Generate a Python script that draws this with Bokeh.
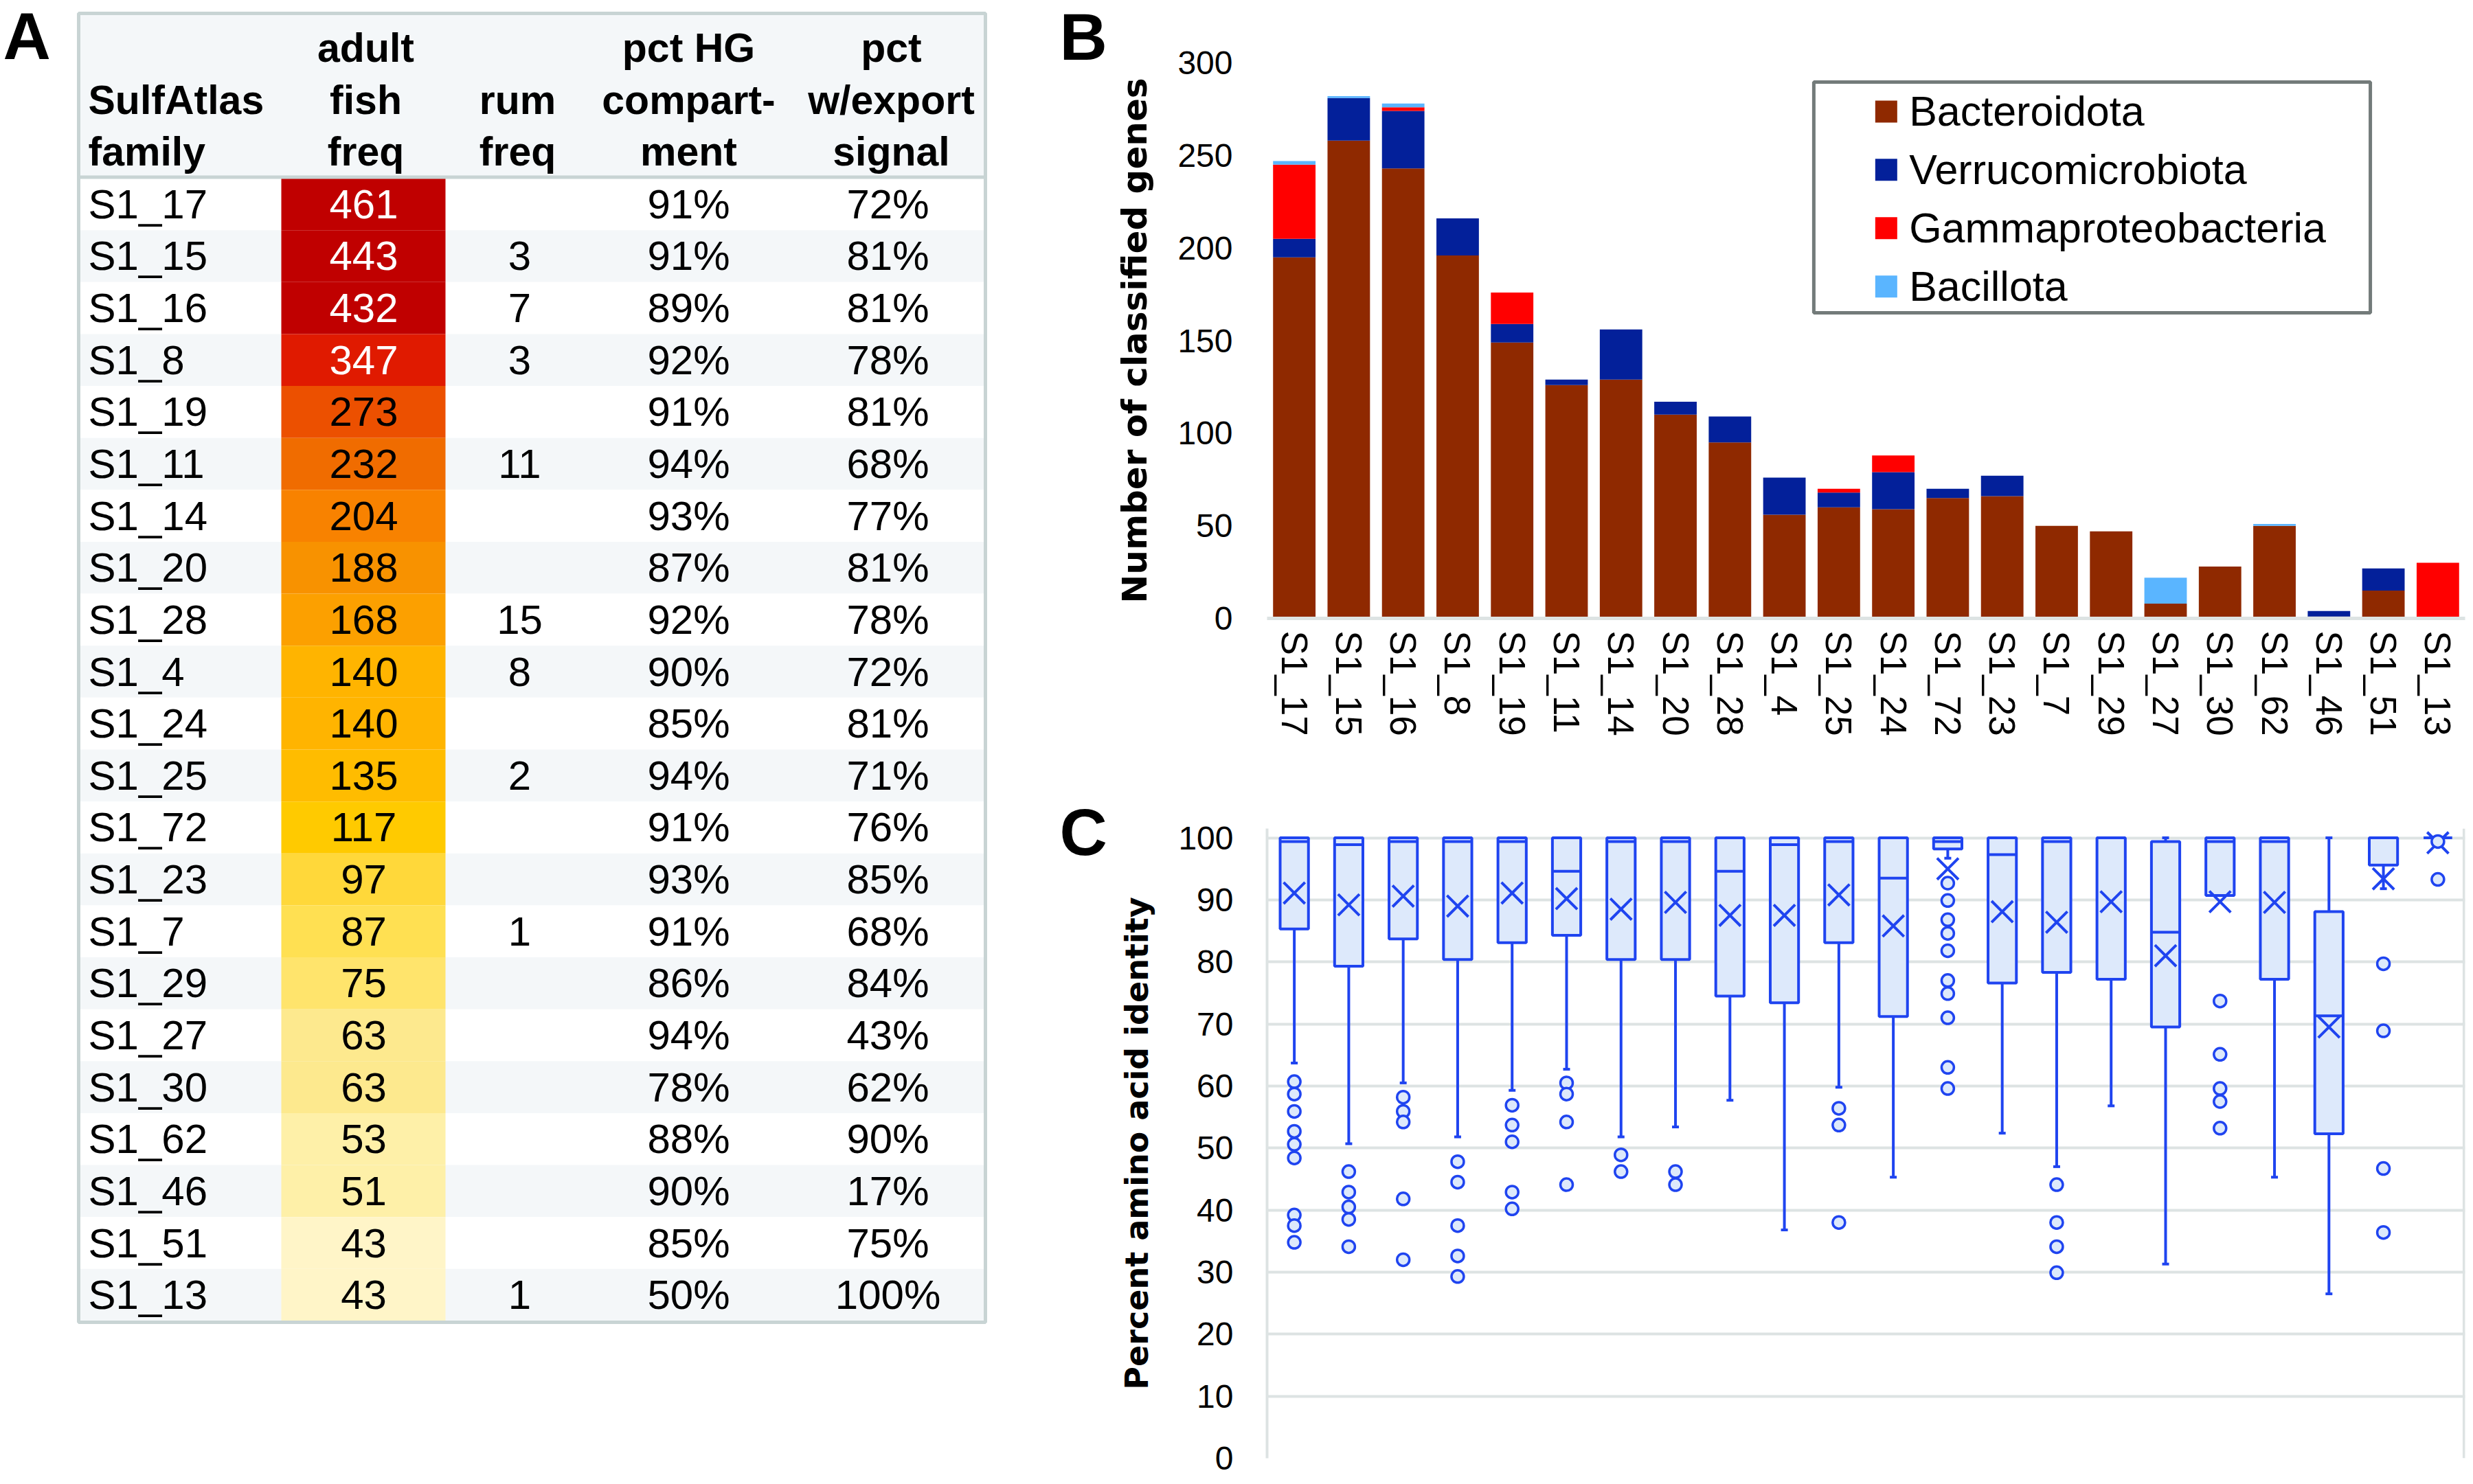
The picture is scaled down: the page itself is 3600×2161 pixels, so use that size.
from bokeh.plotting import figure
from bokeh.models import (Range1d, ColumnDataSource, SingleIntervalTicker, Label)
from bokeh.layouts import row, column
from bokeh.core.properties import value
from bokeh.embed import file_html
from bokeh.resources import INLINE

# ---------------- data: panel A (table) ----------------
table_family = ["S1_17", "S1_15", "S1_16", "S1_8", "S1_19", "S1_11", "S1_14", "S1_20", "S1_28", "S1_4", "S1_24",
                "S1_25", "S1_72", "S1_23", "S1_7", "S1_29", "S1_27", "S1_30", "S1_62", "S1_46", "S1_51", "S1_13"]
table_fish = [461, 443, 432, 347, 273, 232, 204, 188, 168, 140, 140, 135, 117, 97, 87, 75, 63, 63, 53, 51, 43, 43]
table_rum = ["", "3", "7", "3", "", "11", "", "", "15", "8", "", "2", "", "", "1", "", "", "", "", "", "", "1"]
table_hg = [91, 91, 89, 92, 91, 94, 93, 87, 92, 90, 85, 94, 91, 93, 91, 86, 94, 78, 88, 90, 85, 50]
table_export = [72, 81, 81, 78, 81, 68, 77, 81, 78, 72, 81, 71, 76, 85, 68, 84, 43, 62, 90, 17, 75, 100]
fish_colors = ["#c00000", "#c00000", "#c00000", "#e01a00", "#ec5000", "#f06c00", "#f88200", "#f89200",
               "#fca000", "#ffb400", "#ffb400", "#ffbc00", "#ffca00", "#ffd83a", "#ffe052", "#ffe46c",
               "#fde98e", "#fde98e", "#fef0a8", "#fef0a8", "#fff5c8", "#fff5c8"]
header_lines = [["", "SulfAtlas", "family"], ["adult", "fish", "freq"], ["", "rum", "freq"],
                ["pct HG", "compart-", "ment"], ["pct", "w/export", "signal"]]
panel_letters = ["A", "B", "C"]

# ---------------- data: panel B (stacked bars) ----------------
chart_families = ["S1_17", "S1_15", "S1_16", "S1_8", "S1_19", "S1_11", "S1_14", "S1_20", "S1_28", "S1_4", "S1_25",
                  "S1_24", "S1_72", "S1_23", "S1_7", "S1_29", "S1_27", "S1_30", "S1_62", "S1_46", "S1_51", "S1_13"]
bacteroidota = [195, 258, 243, 196, 149, 126, 129, 110, 95, 56, 60, 59, 65, 66, 50, 47, 8, 28, 50, 1, 15, 0]
verrucomicrobiota = [10, 23, 31, 20, 10, 3, 27, 7, 14, 20, 8, 20, 5, 11, 0, 0, 0, 0, 0, 3, 12, 0]
gammaproteobacteria = [40, 0, 2, 0, 17, 0, 0, 0, 0, 0, 2, 9, 0, 0, 0, 0, 0, 0, 0, 0, 0, 30]
bacillota = [2, 1, 2, 0, 0, 0, 0, 0, 0, 0, 0, 0, 0, 0, 0, 0, 14, 0, 1, 0, 0, 0]
taxa = ["Bacteroidota", "Verrucomicrobiota", "Gammaproteobacteria", "Bacillota"]
taxa_colors = ["#8f2900", "#03209a", "#ff0000", "#5ab5ff"]
b_tick_step = 50

# ---------------- data: panel C (box plots) ----------------
box_q3 = [100, 100, 100, 100, 100, 100, 100, 100, 100, 100, 100, 100, 100, 100, 100, 100, 99.4, 100, 100, 88.1, 100, 100]
box_median = [99.4, 98.9, 99.4, 99.4, 99.4, 94.6, 99.4, 99.4, 94.6, 98.9, 99.4, 93.5, 99.4, 97.3, 99.4, 100, 84.8,
              99.4, 99.4, 71.3, 100, 100]
box_q1 = [85.3, 79.3, 83.7, 80.4, 83.1, 84.3, 80.4, 80.4, 74.5, 73.4, 83.1, 71.2, 98.2, 76.6, 78.3, 77.2, 69.5,
          90.7, 77.2, 52.3, 95.6, 100]
box_upper = [100] * 22
box_lower = [63.7, 50.7, 60.5, 51.8, 59.3, 62.7, 51.8, 53.4, 57.7, 36.8, 59.8, 45.3, 96.7, 52.4, 47.0, 56.8, 31.3,
             90.7, 45.3, 26.5, 91.8, 100]
box_mean = [91.1, 89.2, 90.6, 89.0, 91.1, 90.2, 88.5, 89.6, 87.5, 87.5, 90.8, 85.8, 95.0, 88.1, 86.4, 89.7, 81.0,
            89.7, 89.6, 69.5, 93.4, 99.2]
box_outliers = [
    [60.7, 58.7, 55.9, 52.7, 50.6, 48.4, 39.2, 37.5, 34.8],
    [46.2, 42.9, 40.5, 38.5, 34.1],
    [58.2, 55.9, 54.2, 41.8, 32.0],
    [47.8, 44.5, 37.5, 32.6, 29.3],
    [56.9, 53.7, 51.0, 42.9, 40.2],
    [60.5, 58.7, 54.2, 44.1],
    [48.9, 46.2],
    [46.2, 44.1],
    [],
    [],
    [56.4, 53.7, 38.0],
    [],
    [92.7, 89.9, 86.8, 84.6, 81.8, 77.0, 74.9, 71.0, 63.0, 59.6],
    [],
    [44.1, 38.0, 34.1, 29.9],
    [],
    [],
    [73.7, 65.1, 59.6, 57.5, 53.2],
    [],
    [],
    [79.7, 68.9, 46.7, 36.4],
    [99.4, 93.3],
]
c_tick_step = 10

# ---------------- styling constants ----------------
FONT = "Liberation Sans"
BOLD_FONT = "DejaVu Sans"
GRID = "#dde3e3"
TBORDER = "#c8d4d4"
SHADE = "#f4f7f9"
BLUE = "#1f44f0"
LIGHT = "#dde9fb"

# ================= Panel A: table figure (data units = page pixels) =================
TW, TH = 1620, 2153
pt = figure(width=TW, height=TH, x_range=Range1d(0, TW), y_range=Range1d(TH, 0),
            output_backend="svg", toolbar_location=None, x_axis_type=None, y_axis_type=None,
            min_border=0, outline_line_color=None)

T_L, T_R = 116, 1432
T_TOP, HEAD_BOT, T_BOT = 21, 259, 1923
ROW_H = (T_BOT - HEAD_BOT) / len(table_family)
FISH_L, FISH_R = 409, 648
X_FAM, X_FISH, X_RUM, X_HG, X_EXP = 128, 529, 756, 1002, 1292

n = len(table_family)
rows = ColumnDataSource(dict(
    left=[T_L] * n, right=[T_R] * n, fl=[FISH_L] * n, fr=[FISH_R] * n,
    top=[HEAD_BOT + i * ROW_H for i in range(n)],
    bot=[HEAD_BOT + (i + 1) * ROW_H for i in range(n)],
    mid=[HEAD_BOT + (i + 0.5) * ROW_H for i in range(n)],
    shade=[SHADE if i % 2 else "#ffffff" for i in range(n)],
    fam=table_family,
    fish=[str(v) for v in table_fish],
    fish_color=fish_colors,
    fish_text=["#ffffff" if v >= 300 else "#000000" for v in table_fish],
    rum=table_rum,
    hg=[f"{v}%" for v in table_hg],
    exp=[f"{v}%" for v in table_export],
    xf=[X_FAM] * n, xfi=[X_FISH] * n, xr=[X_RUM] * n, xh=[X_HG] * n, xe=[X_EXP] * n,
))
pt.quad(left=[T_L], right=[T_R], top=[T_TOP], bottom=[HEAD_BOT], fill_color=SHADE, line_color=None)
pt.quad(left="left", right="right", top="top", bottom="bot", fill_color="shade", line_color=None, source=rows)
pt.quad(left="fl", right="fr", top="top", bottom="bot", fill_color="fish_color", line_color=None, source=rows)
pt.segment(x0=[T_L], x1=[T_R], y0=[HEAD_BOT - 1.5], y1=[HEAD_BOT - 1.5], line_color=TBORDER, line_width=5)
pt.quad(left=[T_L - 2], right=[T_R + 2], top=[T_TOP - 2], bottom=[T_BOT + 2], fill_color=None,
        line_color=TBORDER, line_width=5)

body_kw = dict(text_font=value(FONT), text_font_size="60px", text_baseline="middle", source=rows)
pt.text(x="xf", y="mid", text="fam", text_align="left", text_color="#000000", **body_kw)
pt.text(x="xfi", y="mid", text="fish", text_align="center", text_color="fish_text", **body_kw)
pt.text(x="xr", y="mid", text="rum", text_align="center", text_color="#000000", **body_kw)
pt.text(x="xh", y="mid", text="hg", text_align="center", text_color="#000000", **body_kw)
pt.text(x="xe", y="mid", text="exp", text_align="center", text_color="#000000", **body_kw)

head_x = [X_FAM, 532, 753, X_HG, 1297]
head_align = ["left", "center", "center", "center", "center"]
head_mid = [69, 145, 220]
hx, hy, ht, ha = [], [], [], []
for j, lines in enumerate(header_lines):
    for k, s in enumerate(lines):
        if s:
            hx.append(head_x[j]); hy.append(head_mid[k]); ht.append(s); ha.append(head_align[j])
pt.text(x="x", y="y", text="t", text_align="a",
        source=ColumnDataSource(dict(x=hx, y=hy, t=ht, a=ha)),
        text_font=value(FONT), text_font_style="bold", text_font_size="59px",
        text_baseline="middle", text_color="#000000")

# panel letters (font size kept below 100px)
for s, x, y in zip(panel_letters, [4, 1542, 1542], [52, 53, 1211]):
    pt.add_layout(Label(x=x, y=y, text=s, text_font=FONT, text_font_style="bold", text_font_size="96px",
                        text_baseline="alphabetic", text_align="left", text_color="#000000"))

# ================= Panel B: stacked bar chart =================
PW = 1972
NCAT = len(chart_families)
xi = list(range(NCAT))
fam_labels = {i: f for i, f in enumerate(chart_families)}

pb = figure(width=PW, height=1140, x_range=Range1d(-0.5, NCAT - 0.5), y_range=Range1d(0, 300),
            output_backend="svg", toolbar_location=None, min_border_left=218, min_border_right=4,
            min_border_top=91, min_border_bottom=240, outline_line_color=None)
src_b = ColumnDataSource(dict(xi=xi, Bacteroidota=bacteroidota, Verrucomicrobiota=verrucomicrobiota,
                              Gammaproteobacteria=gammaproteobacteria, Bacillota=bacillota))
pb.vbar_stack(taxa, x="xi", width=0.78, fill_color=taxa_colors, line_color=None, source=src_b)
pb.xgrid.visible = False
pb.ygrid.visible = False

LEG_L, LEG_R, LEG_T, LEG_B = 9.54, 19.76, 289.6, 165.0
pb.quad(left=[LEG_L], right=[LEG_R], top=[LEG_T], bottom=[LEG_B], fill_color="#ffffff",
        line_color="#737b7a", line_width=5)
leg_y = [LEG_T - 15.9 - 31.5 * i for i in range(len(taxa))]
leg_src = ColumnDataSource(dict(x=[LEG_L + 1.33] * len(taxa), tx=[LEG_L + 1.75] * len(taxa),
                                y=leg_y, c=taxa_colors, t=taxa))
pb.scatter(x="x", y="y", marker="square", size=32, fill_color="c", line_color=None, source=leg_src)
pb.text(x="tx", y="y", text="t", source=leg_src, text_font=value(FONT), text_font_size="61px",
        text_baseline="middle", text_align="left", text_color="#000000")

pb.yaxis.ticker = SingleIntervalTicker(interval=b_tick_step, num_minor_ticks=0)
pb.yaxis.axis_line_color = None
pb.yaxis.major_tick_line_color = None
pb.yaxis.minor_tick_line_color = None
pb.yaxis.major_label_standoff = 44
pb.yaxis.major_label_text_font = FONT
pb.yaxis.major_label_text_font_size = "48px"
pb.yaxis.major_label_text_color = "#000000"
pb.yaxis.axis_label = "Number of classified genes"
pb.yaxis.axis_label_text_font = BOLD_FONT
pb.yaxis.axis_label_text_font_style = "bold"
pb.yaxis.axis_label_text_font_size = "50px"
pb.yaxis.axis_label_text_color = "#000000"
pb.yaxis.axis_label_standoff = 30

pb.xaxis.ticker = SingleIntervalTicker(interval=1, num_minor_ticks=0)
pb.xaxis.major_label_overrides = fam_labels
pb.xaxis.axis_line_color = GRID
pb.xaxis.axis_line_width = 5
pb.xaxis.major_tick_line_color = None
pb.xaxis.minor_tick_line_color = None
pb.xaxis.major_label_orientation = "vertical"
pb.xaxis.major_label_text_font = FONT
pb.xaxis.major_label_text_font_size = "53px"
pb.xaxis.major_label_text_color = "#000000"
pb.xaxis.major_label_standoff = 12

# ================= Panel C: box plots =================
pc = figure(width=PW, height=1013, x_range=Range1d(-0.5, NCAT - 0.5), y_range=Range1d(0, 101.5),
            output_backend="svg", toolbar_location=None, min_border_left=218, min_border_right=4,
            min_border_top=66, min_border_bottom=30, outline_line_color=None)
BW = 0.52
src_c = ColumnDataSource(dict(xi=xi, q1=box_q1, q3=box_q3, med=box_median,
                              up=box_upper, lo=box_lower, mean=box_mean,
                              mx0=[i - BW / 2 for i in xi], mx1=[i + BW / 2 for i in xi]))
out_x, out_val = [], []
for i, vals in enumerate(box_outliers):
    for v in vals:
        out_x.append(i); out_val.append(v)
src_out = ColumnDataSource(dict(xi=out_x, val=out_val))

pc.xaxis.visible = False
pc.xgrid.visible = False
pc.yaxis.ticker = SingleIntervalTicker(interval=c_tick_step, num_minor_ticks=0)
pc.ygrid.grid_line_color = GRID
pc.ygrid.grid_line_width = 4
pc.yaxis.axis_line_color = GRID
pc.yaxis.axis_line_width = 4
pc.yaxis.major_tick_line_color = None
pc.yaxis.minor_tick_line_color = None
pc.yaxis.major_label_standoff = 43
pc.yaxis.major_label_text_font = FONT
pc.yaxis.major_label_text_font_size = "48px"
pc.yaxis.major_label_text_color = "#000000"
pc.yaxis.axis_label = "Percent amino acid identity"
pc.yaxis.axis_label_text_font = BOLD_FONT
pc.yaxis.axis_label_text_font_style = "bold"
pc.yaxis.axis_label_text_font_size = "46px"
pc.yaxis.axis_label_text_color = "#000000"
pc.yaxis.axis_label_standoff = 30
pc.segment(x0=[NCAT - 0.52], y0=[0], x1=[NCAT - 0.52], y1=[101.5], line_color=GRID, line_width=4)

pc.segment(x0="xi", y0="q1", x1="xi", y1="lo", line_color=BLUE, line_width=4, source=src_c)
pc.segment(x0="xi", y0="q3", x1="xi", y1="up", line_color=BLUE, line_width=4, source=src_c)
pc.scatter(x="xi", y="lo", marker="dash", size=10, line_color=BLUE, line_width=4, source=src_c)
pc.scatter(x="xi", y="up", marker="dash", size=10, line_color=BLUE, line_width=4, source=src_c)
pc.vbar(x="xi", bottom="q1", top="q3", width=BW, fill_color=LIGHT, line_color=BLUE, line_width=4, source=src_c)
pc.segment(x0="mx0", y0="med", x1="mx1", y1="med", line_color=BLUE, line_width=4, source=src_c)
pc.scatter(x="xi", y="mean", marker="x", size=44, line_color=BLUE, line_width=4, source=src_c)
pc.scatter(x="xi", y="val", marker="circle", size=18, fill_color=LIGHT, line_color=BLUE, line_width=3.5,
           source=src_out)

layout = row(pt, column(pb, pc))
open("out.html", "w").write(file_html(layout, INLINE))
